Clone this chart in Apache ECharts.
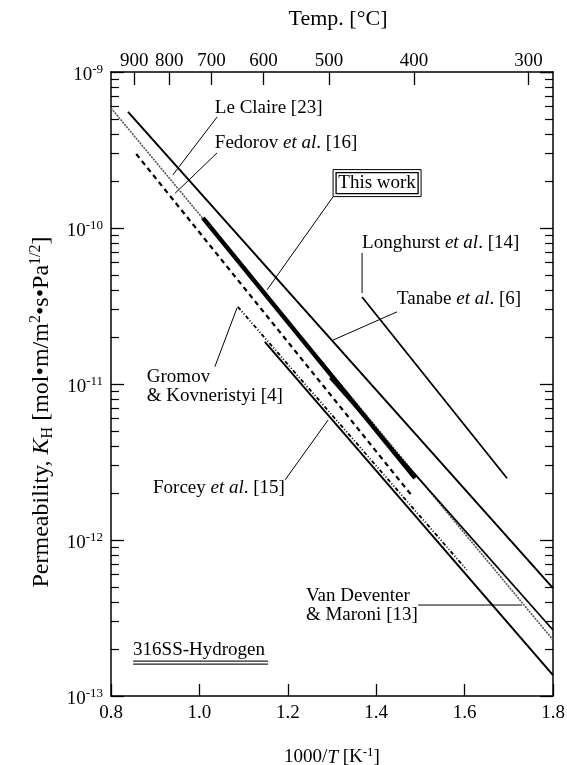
<!DOCTYPE html>
<html>
<head>
<meta charset="utf-8">
<script src="https://cdn.jsdelivr.net/npm/echarts@6/dist/echarts.min.js"></script>
<style>
  html, body { margin: 0; padding: 0; background: #fff; }
  #chart { width: 567px; height: 765px; }
</style>
</head>
<body>
<div id="chart"></div>
<script>
// Permeability lines: end points as 1000/T [1/K] and K_H [mol m^-1 s^-1 Pa^-1/2]
const leClaireX = [0.800, 1.800];
const leClaireK = [5.88e-10, 2.29e-13];
const fedorovX = [0.857, 1.483];
const fedorovK = [2.98e-10, 1.89e-12];
const thisWorkX = [1.008, 1.488];
const thisWorkK = [1.16e-10, 2.49e-12];
const longhurstX = [1.368, 1.696];
const longhurstK = [3.61e-11, 2.49e-12];
const tanabeX = [0.8385, 1.800];
const tanabeK = [5.55e-10, 4.92e-13];
const gromovX = [1.087, 1.605];
const gromovK = [3.12e-11, 6.43e-13];
const forceyX = [1.148, 1.800];
const forceyK = [1.86e-11, 1.36e-13];
const vanDeventerX = [1.295, 1.800];
const vanDeventerK = [1.09e-11, 2.65e-13];

// axis ticks
const xTickValues = [0.8, 1.0, 1.2, 1.4, 1.6, 1.8];
const tempTicksC = [900, 800, 700, 600, 500, 400, 300];
const decadeExponents = [-13, -12, -11, -10, -9];

const FONT = '"Liberation Serif", "DejaVu Serif", serif';
const FS = 19;

const tempTickX = tempTicksC.map(t => 1000 / (t + 273.15));
const minorK = [];
decadeExponents.slice(0, -1).forEach(e => {
  for (let m = 2; m <= 9; m++) minorK.push(m * Math.pow(10, e));
});

function pair(xs, ks) { return xs.map((x, i) => [x, ks[i]]); }

function lineSeries(name, xs, ks, style) {
  return {
    name, type: 'line', xAxisIndex: 0, yAxisIndex: 0,
    data: pair(xs, ks), showSymbol: false, symbol: 'none',
    silent: true, animation: false,
    lineStyle: Object.assign({ color: '#000', width: 1.8, type: 'solid', cap: 'butt' }, style)
  };
}

const serif = { fontFamily: FONT, fontSize: FS, color: '#000' };
function richSet(size) {
  const s = Math.round(size * 0.68);
  return {
    i: { fontFamily: FONT, fontSize: size, fontStyle: 'italic', color: '#000' },
    sup: { fontFamily: FONT, fontSize: s, padding: [0, 0, Math.round(size * 0.5), 0], color: '#000' },
    sub: { fontFamily: FONT, fontSize: s, padding: [Math.round(size * 0.5), 0, 0, 0], color: '#000' },
    b: { fontFamily: FONT, fontSize: size, color: '#000' }
  };
}
const rich = richSet(FS);

function yMajorAxis(pos, withLabel, withName) {
  return {
    type: 'log', position: pos, min: 1e-13, max: 1e-9, logBase: 10,
    axisLine: { show: true, onZero: false, lineStyle: { color: '#000', width: 1.5 } },
    axisTick: { show: true, inside: true, length: 13, lineStyle: { color: '#000', width: 1.3 } },
    axisLabel: withLabel ? {
      show: true, margin: 8, padding: [6, 0, 0, 0],
      formatter: v => '{b|10}{sup|' + Math.round(Math.log10(v)) + '}',
      rich
    } : { show: false },
    splitLine: { show: false },
    name: withName ? 'Permeability, {i|K}{sub|H} [mol•m/m{sup|2}•s•Pa{sup|1/2}]' : '',
    nameLocation: 'middle', nameGap: 42,
    nameTextStyle: { fontFamily: FONT, fontSize: 24, color: '#000', rich: richSet(24), padding: [0, 56, 0, 0] }
  };
}
function yMinorAxis(pos) {
  return {
    type: 'log', position: pos, min: 1e-13, max: 1e-9, logBase: 10,
    axisLine: { show: false },
    axisTick: { show: true, inside: true, length: 8, customValues: minorK,
      lineStyle: { color: '#000', width: 1.2 } },
    axisLabel: { show: false },
    splitLine: { show: false }
  };
}

const chart = echarts.init(document.getElementById('chart'), null, { renderer: 'canvas' });

chart.setOption({
  backgroundColor: '#fff',
  animation: false,
  grid: { left: 111, top: 72, width: 442, height: 624, containLabel: false, outerBoundsMode: 'none' },
  xAxis: [
    {
      type: 'value', position: 'bottom', min: 0.8, max: 1.8, interval: 0.2,
      axisLine: { show: true, onZero: false, lineStyle: { color: '#000', width: 1.5 } },
      axisTick: { show: true, inside: true, length: 12, lineStyle: { color: '#000', width: 1.3 } },
      axisLabel: { show: true, margin: 8, formatter: v => v.toFixed(1), ...serif },
      splitLine: { show: false },
      name: '1000/{i|T} [K{sup|-1}]', nameLocation: 'middle', nameGap: 50,
      nameTextStyle: { fontFamily: FONT, fontSize: 19, color: '#000', rich: richSet(19) }
    },
    {
      type: 'value', position: 'top', min: 0.8, max: 1.8,
      axisLine: { show: true, onZero: false, lineStyle: { color: '#000', width: 1.5 } },
      axisTick: { show: true, inside: true, length: 13, customValues: tempTickX,
        lineStyle: { color: '#000', width: 1.3 } },
      axisLabel: { show: true, margin: 1, customValues: tempTickX,
        formatter: v => String(Math.round(1000 / v - 273.15)), ...serif },
      splitLine: { show: false },
      name: 'Temp. [°C]', nameLocation: 'middle', nameGap: 42,
      nameTextStyle: { fontFamily: FONT, fontSize: 22, color: '#000', padding: [0, 0, 0, 12] }
    }
  ],
  yAxis: [
    yMajorAxis('left', true, true),
    yMajorAxis('right', false, false),
    yMinorAxis('left'),
    yMinorAxis('right')
  ],
  series: [
    lineSeries('Le Claire [23]', leClaireX, leClaireK, { color: '#555', width: 1.6, type: [2, 1] }),
    lineSeries('Tanabe et al. [6]', tanabeX, tanabeK, { width: 2 }),
    lineSeries('Van Deventer & Maroni [13]', vanDeventerX, vanDeventerK, { width: 1.8 }),
    lineSeries('Fedorov et al. [16]', fedorovX, fedorovK, { width: 2.2, type: [5, 4] }),
    lineSeries('This work', thisWorkX, thisWorkK, { width: 4.5 }),
    lineSeries('Longhurst et al. [14]', longhurstX, longhurstK, { width: 1.8 }),
    lineSeries('Gromov & Kovneristyi [4]', gromovX, gromovK, { width: 1.8, type: [4, 2, 1, 2, 1, 2] }),
    lineSeries('Forcey et al. [15]', forceyX, forceyK, { width: 2 })
  ]
});

// Callout texts, leader lines and frame boxes, anchored in data units
const callouts = [
  { text: 'Le Claire [23]', at: [1.035, 5.88e-10] },
  { text: 'Fedorov {i|et al}. [16]', at: [1.035, 3.51e-10] },
  { text: 'Longhurst {i|et al}. [14]', at: [1.368, 8.02e-11] },
  { text: 'Tanabe {i|et al}. [6]', at: [1.447, 3.51e-11] },
  { text: 'Gromov\n& Kovneristyi [4]', at: [0.881, 9.70e-12] },
  { text: 'Forcey {i|et al}. [15]', at: [0.895, 2.15e-12] },
  { text: 'Van Deventer\n& Maroni [13]', at: [1.241, 3.83e-13] }
];
const leaders = [
  [[1.040, 5.15e-10], [0.940, 2.19e-10]],
  [[1.040, 3.03e-10], [0.945, 1.67e-10]],
  [[1.302, 1.58e-10], [1.153, 4.01e-11]],
  [[1.368, 6.92e-11], [1.368, 3.83e-11]],
  [[1.447, 2.90e-11], [1.302, 1.91e-11]],
  [[1.085, 3.07e-11], [1.035, 1.29e-11]],
  [[1.291, 5.87e-12], [1.194, 2.43e-12]],
  [[1.495, 3.83e-13], [1.730, 3.83e-13]]
];
const thisWorkBoxAt = [1.402, 1.94e-10];
const materialTagAt = [0.850, 1.97e-13];

function px(p) { return chart.convertToPixel({ xAxisIndex: 0, yAxisIndex: 0 }, p); }

const graphics = [];
callouts.forEach(c => {
  const p = px(c.at);
  graphics.push({
    type: 'text', x: p[0], y: p[1], silent: true,
    style: { text: c.text, fontFamily: FONT, fontSize: FS, fill: '#000',
      textAlign: 'left', textVerticalAlign: 'middle', lineHeight: 19, rich }
  });
});
leaders.forEach(l => {
  const a = px(l[0]), b = px(l[1]);
  graphics.push({
    type: 'line', silent: true,
    shape: { x1: a[0], y1: a[1], x2: b[0], y2: b[1] },
    style: { stroke: '#000', lineWidth: 1 }
  });
});
// boxed "This work"
(function () {
  const c = px(thisWorkBoxAt);
  const w = 88, h = 27;
  graphics.push({ type: 'rect', silent: true,
    shape: { x: c[0] - w / 2, y: c[1] - h / 2, width: w, height: h },
    style: { fill: '#fff', stroke: '#000', lineWidth: 1 } });
  graphics.push({ type: 'rect', silent: true,
    shape: { x: c[0] - w / 2 + 3, y: c[1] - h / 2 + 3, width: w - 6, height: h - 6 },
    style: { fill: 'none', stroke: '#000', lineWidth: 1.3 } });
  graphics.push({ type: 'text', x: c[0], y: c[1], silent: true,
    style: { text: 'This work', fontFamily: FONT, fontSize: FS, fill: '#000',
      textAlign: 'center', textVerticalAlign: 'middle' } });
})();
// material tag with double underline
(function () {
  const p = px(materialTagAt);
  graphics.push({ type: 'text', x: p[0], y: p[1], silent: true,
    style: { text: '316SS-Hydrogen', fontFamily: FONT, fontSize: FS, fill: '#000',
      textAlign: 'left', textVerticalAlign: 'middle' } });
  [11, 14].forEach(dy => graphics.push({ type: 'line', silent: true,
    shape: { x1: p[0], y1: p[1] + dy, x2: p[0] + 135, y2: p[1] + dy },
    style: { stroke: '#222', lineWidth: 1.2 } }));
})();

chart.setOption({ graphic: graphics });
</script>
</body>
</html>
